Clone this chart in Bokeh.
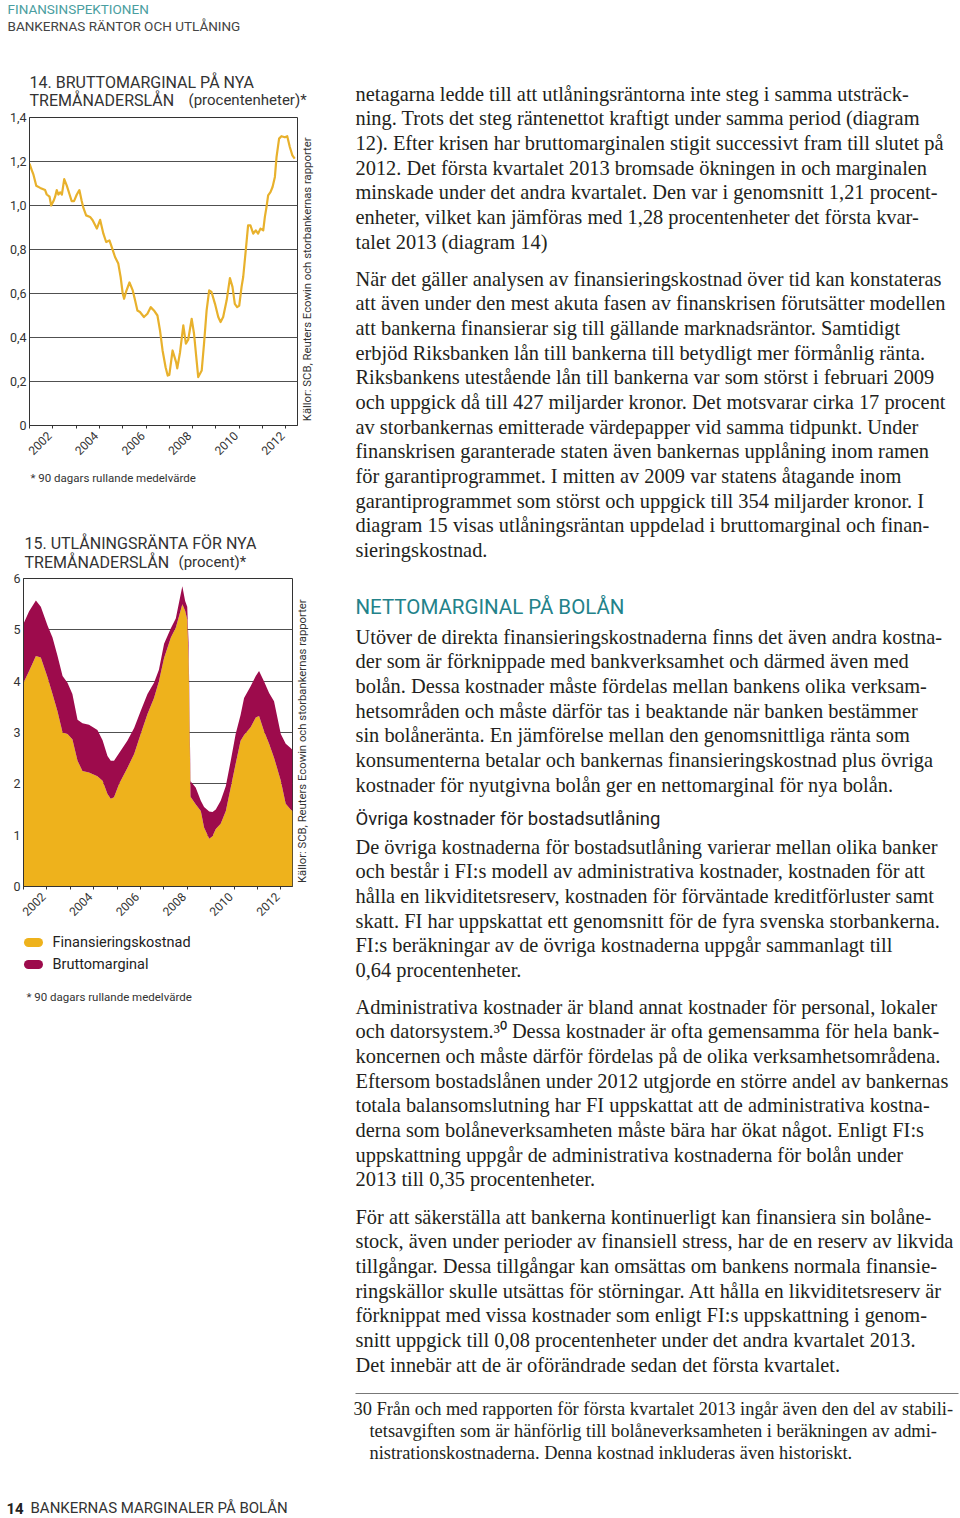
import math
from bokeh.plotting import figure
from bokeh.layouts import row, column
from bokeh.models import Range1d, FixedTicker, CustomJSTickFormatter, ColumnDataSource
from bokeh.embed import file_html
from bokeh.resources import INLINE
from bokeh.core.properties import value

# ---------------- DATA ----------------
# Diagram 14: Bruttomarginal på nya tremånaderslån (procentenheter), 90-dagars rullande medelvärde
years_14 = [2002.00, 2002.10, 2002.17, 2002.29, 2002.46, 2002.67, 2002.74, 2002.86, 2002.93, 2003.03,
            2003.10, 2003.17, 2003.24, 2003.32, 2003.39, 2003.49, 2003.60, 2003.72, 2003.81, 2003.91,
            2004.03, 2004.14, 2004.24, 2004.31, 2004.43, 2004.60, 2004.71, 2004.89, 2005.03, 2005.17,
            2005.29, 2005.43, 2005.53, 2005.67, 2005.81, 2005.91, 2006.00, 2006.06, 2006.14, 2006.29,
            2006.43, 2006.53, 2006.63, 2006.74, 2006.91, 2007.06, 2007.20, 2007.34, 2007.49, 2007.60,
            2007.71, 2007.84, 2007.93, 2008.00, 2008.14, 2008.29, 2008.34, 2008.46, 2008.60, 2008.71,
            2008.81, 2008.96, 2009.06, 2009.17, 2009.24, 2009.39, 2009.49, 2009.60, 2009.71, 2009.81,
            2009.96, 2010.10, 2010.20, 2010.31, 2010.46, 2010.60, 2010.71, 2010.81, 2010.91, 2011.00,
            2011.10, 2011.17, 2011.28, 2011.38, 2011.48, 2011.60, 2011.71, 2011.81, 2011.91, 2012.03,
            2012.10, 2012.17, 2012.24, 2012.34, 2012.43, 2012.53, 2012.60, 2012.71, 2012.81, 2012.96,
            2013.06, 2013.17, 2013.28, 2013.38]
margin_14 = [1.19, 1.16, 1.14, 1.09, 1.08, 1.07, 1.05, 1.04, 1.00, 1.02,
             1.04, 1.07, 1.05, 1.06, 1.05, 1.12, 1.09, 1.05, 1.02, 1.02,
             1.05, 1.07, 1.02, 0.99, 0.955, 0.948, 0.933, 0.895, 0.935, 0.872,
             0.834, 0.841, 0.811, 0.766, 0.736, 0.675, 0.60, 0.576, 0.607, 0.65,
             0.614, 0.569, 0.523, 0.516, 0.493, 0.508, 0.538, 0.523, 0.50, 0.432,
             0.341, 0.265, 0.227, 0.23, 0.341, 0.288, 0.26, 0.333, 0.455, 0.372,
             0.39, 0.485, 0.417, 0.296, 0.22, 0.25, 0.373, 0.523, 0.614, 0.607,
             0.553, 0.493, 0.47, 0.493, 0.569, 0.67, 0.63, 0.553, 0.538, 0.545,
             0.63, 0.675, 0.796, 0.91, 0.91, 0.872, 0.887, 0.872, 0.895, 0.887,
             0.948, 0.993, 1.046, 1.061, 1.084, 1.13, 1.22, 1.304, 1.315, 1.31,
             1.315, 1.266, 1.228, 1.213]

# Diagram 15: Utlåningsränta för nya tremånaderslån (procent) = finansieringskostnad + bruttomarginal
years_15 = [2002.00, 2002.24, 2002.53, 2002.74, 2003.03, 2003.24, 2003.45, 2003.67, 2003.88, 2004.09,
            2004.31, 2004.52, 2004.80, 2005.16, 2005.38, 2005.59, 2005.73, 2005.87, 2006.09, 2006.44,
            2006.73, 2007.01, 2007.30, 2007.58, 2007.79, 2008.01, 2008.30, 2008.51, 2008.79, 2008.91,
            2009.00, 2009.06, 2009.14, 2009.36, 2009.58, 2009.72, 2009.94, 2010.08, 2010.22, 2010.43,
            2010.65, 2010.86, 2011.07, 2011.28, 2011.43, 2011.71, 2011.93, 2012.07, 2012.28, 2012.50,
            2012.71, 2013.00, 2013.21, 2013.42, 2013.50]
fin_15 = [3.97, 4.20, 4.49, 4.46, 4.07, 3.75, 3.42, 3.00, 2.97, 2.87,
          2.45, 2.25, 2.22, 2.15, 2.06, 1.80, 1.71, 1.74, 2.00, 2.31,
          2.58, 2.97, 3.36, 3.67, 4.00, 4.45, 4.85, 5.04, 5.50, 5.37,
          5.20, 4.40, 1.75, 1.60, 1.47, 1.15, 0.93, 0.98, 1.12, 1.22,
          1.47, 1.93, 2.39, 2.84, 2.95, 3.10, 3.29, 3.32, 3.03, 2.78,
          2.51, 2.06, 1.61, 1.50, 1.47]
brutto_15 = [1.15, 1.16, 1.08, 0.99, 1.01, 1.10, 1.08, 1.10, 1.00, 0.88,
             0.80, 0.93, 0.93, 0.90, 0.79, 0.74, 0.74, 0.71, 0.60, 0.53,
             0.51, 0.45, 0.39, 0.30, 0.22, 0.28, 0.18, 0.18, 0.35, 0.19,
             0.25, 0.30, 0.30, 0.33, 0.20, 0.40, 0.53, 0.47, 0.38, 0.45,
             0.49, 0.52, 0.58, 0.50, 0.72, 0.80, 0.81, 0.88, 0.97, 0.99,
             1.10, 0.91, 1.17, 1.20, 1.19]

year_ticks = list(range(2002, 2014))
label_years = [2002, 2004, 2006, 2008, 2010, 2012]
yticks_14 = [0, 0.2, 0.4, 0.6, 0.8, 1.0, 1.2, 1.4]
yticks_15 = [0, 1, 2, 3, 4, 5, 6]

# ---------------- STYLE ----------------
YELLOW = "#EEB21C"
MAGENTA = "#9D0B4C"
LINE14 = "#E8B12C"
DARK = "#333333"
GRID = "#505050"
TEAL = "#23828A"
TEAL_HDR = "#4A9EA0"
BODY = "#231F20"
SANS = "Roboto"
SERIF = "Liberation Serif"
SOURCE = "Källor: SCB, Reuters Ecowin och storbankernas rapporter"
NOTE = "* 90 dagars rullande medelvärde"


def text_fig(w, h):
    p = figure(width=w, height=h, x_range=Range1d(0, w), y_range=Range1d(h, 0),
               x_axis_type=None, y_axis_type=None, toolbar_location=None,
               output_backend="svg", min_border=0, title=None)
    p.outline_line_color = None
    p.background_fill_color = "white"
    p.border_fill_color = "white"
    return p


def put(p, xs, ys, texts, size, color, font=SANS, style="normal", align="left", angle=0.0):
    src = ColumnDataSource(dict(x=xs, y=ys, t=texts))
    p.text(x="x", y="y", text="t", source=src, text_font=value(font),
           text_font_size=f"{size}px", text_color=color, text_font_style=style,
           text_align=align, text_baseline="middle", angle=angle)


def chart_fig(w, h, ymax, yticks, ycode, mbl, mbr, mbt, mbb):
    p = figure(width=w, height=h, x_range=Range1d(2002, 2013.5), y_range=Range1d(0, ymax),
               toolbar_location=None, output_backend="svg", title=None,
               min_border_left=mbl, min_border_right=mbr, min_border_top=mbt, min_border_bottom=mbb)
    p.outline_line_color = DARK
    p.outline_line_width = 1
    p.background_fill_color = "white"
    p.border_fill_color = "white"
    p.xgrid.visible = False
    p.ygrid.ticker = FixedTicker(ticks=yticks)
    p.ygrid.grid_line_color = GRID
    p.ygrid.grid_line_width = 1
    p.yaxis.ticker = FixedTicker(ticks=yticks)
    p.yaxis.formatter = CustomJSTickFormatter(code=ycode)
    p.yaxis.major_tick_line_color = None
    p.yaxis.minor_tick_line_color = None
    p.yaxis.major_tick_out = 0
    p.yaxis.major_tick_in = 0
    p.yaxis.minor_tick_out = 0
    p.yaxis.major_label_standoff = 3
    p.yaxis.major_label_text_font = SANS
    p.yaxis.major_label_text_font_size = "12.5px"
    p.yaxis.major_label_text_color = DARK
    p.yaxis.axis_line_color = DARK
    p.xaxis.ticker = FixedTicker(ticks=[y + 0.85 for y in label_years], minor_ticks=year_ticks)
    p.xaxis.formatter = CustomJSTickFormatter(code="return String(Math.floor(tick));")
    p.xaxis.major_tick_line_color = None
    p.xaxis.major_tick_out = 0
    p.xaxis.major_tick_in = 0
    p.xaxis.minor_tick_out = 3
    p.xaxis.minor_tick_in = 0
    p.xaxis.minor_tick_line_color = DARK
    p.xaxis.major_label_orientation = math.pi / 4
    p.xaxis.major_label_standoff = 5
    p.xaxis.major_label_text_font = SANS
    p.xaxis.major_label_text_font_size = "12px"
    p.xaxis.major_label_text_color = DARK
    p.xaxis.axis_line_color = DARK
    return p


# ---------------- LEFT COLUMN ----------------
# L1: header + title 14  (page y 0..109)
L1 = text_fig(340, 109)
put(L1, [7], [8.5], ["FINANSINSPEKTIONEN"], 13.5, TEAL_HDR)
put(L1, [7], [25.5], ["BANKERNAS RÄNTOR OCH UTLÅNING"], 13.5, "#444444")
put(L1, [29], [81.5], ["14. BRUTTOMARGINAL PÅ NYA"], 16, DARK)
put(L1, [29], [99.5], ["TREMÅNADERSLÅN"], 16, DARK)
put(L1, [188], [99.5], ["(procentenheter)*"], 15, DARK)

# Chart 14 (page y 109..465): frame 117..425
C14 = chart_fig(301, 356, 1.4, yticks_14,
                "return tick == 0 ? '0' : tick.toFixed(1).replace('.', ',');",
                29, 4, 8, 40)
src14 = ColumnDataSource(dict(year=years_14, margin=margin_14))
C14.line(x="year", y="margin", source=src14, line_color=LINE14, line_width=2.2, line_join="round")

S14 = text_fig(39, 356)
put(S14, [6], [351], [SOURCE], 11.3, DARK, angle=math.pi / 2)

# L2: footnote 14 + title 15 (page y 465..571)
L2 = text_fig(340, 106)
put(L2, [30], [12], [NOTE], 11.5, DARK)
put(L2, [24], [78], ["15. UTLÅNINGSRÄNTA FÖR NYA"], 16, DARK)
put(L2, [24], [96.5], ["TREMÅNADERSLÅN"], 16, DARK)
put(L2, [178], [96.5], ["(procent)*"], 15, DARK)

# Chart 15 (page y 571..925): frame 578..886
C15 = chart_fig(295, 354, 6, yticks_15, "return String(Math.round(tick));", 23, 3, 7, 39)
src15 = ColumnDataSource(dict(year=years_15, fin=fin_15, brutto=brutto_15))
C15.varea_stack(stackers=["fin", "brutto"], x="year", color=[YELLOW, MAGENTA], source=src15)

S15 = text_fig(45, 354)
put(S15, [7], [350], [SOURCE], 11.3, DARK, angle=math.pi / 2)

# L3: legend, footnote, footer (page y 925..1518)
L3 = text_fig(340, 593)
L3.segment(x0=[28, 28], y0=[17, 39], x1=[38, 38], y1=[17, 39], line_color=[YELLOW, MAGENTA],
           line_width=9, line_cap="round")
put(L3, [52, 52], [17, 39], ["Finansieringskostnad", "Bruttomarginal"], 14.5, "#222222")
put(L3, [26], [71], [NOTE], 11.5, DARK)
put(L3, [6], [582.5], ["14"], 15, "#222222", style="bold")
put(L3, [30], [582.5], ["BANKERNAS MARGINALER PÅ BOLÅN"], 15, "#333333")

left = column(L1, row(C14, S14), L2, row(C15, S15), L3)

# ---------------- RIGHT COLUMN (body text) ----------------
RX0 = 340
R = text_fig(620, 1518)
STEP = 24.67

paragraphs = [
    (93, [
        "netagarna ledde till att utlåningsräntorna inte steg i samma utsträck-",
        "ning. Trots det steg räntenettot kraftigt under samma period (diagram",
        "12). Efter krisen har bruttomarginalen stigit successivt fram till slutet på",
        "2012. Det första kvartalet 2013 bromsade ökningen in och marginalen",
        "minskade under det andra kvartalet. Den var i genomsnitt 1,21 procent-",
        "enheter, vilket kan jämföras med 1,28 procentenheter det första kvar-",
        "talet 2013 (diagram 14)",
    ]),
    (278, [
        "När det gäller analysen av finansieringskostnad över tid kan konstateras",
        "att även under den mest akuta fasen av finanskrisen förutsätter modellen",
        "att bankerna finansierar sig till gällande marknadsräntor. Samtidigt",
        "erbjöd Riksbanken lån till bankerna till betydligt mer förmånlig ränta.",
        "Riksbankens utestående lån till bankerna var som störst i februari 2009",
        "och uppgick då till 427 miljarder kronor. Det motsvarar cirka 17 procent",
        "av storbankernas emitterade värdepapper vid samma tidpunkt. Under",
        "finanskrisen garanterade staten även bankernas upplåning inom ramen",
        "för garantiprogrammet. I mitten av 2009 var statens åtagande inom",
        "garantiprogrammet som störst och uppgick till 354 miljarder kronor. I",
        "diagram 15 visas utlåningsräntan uppdelad i bruttomarginal och finan-",
        "sieringskostnad.",
    ]),
    (636, [
        "Utöver de direkta finansieringskostnaderna finns det även andra kostna-",
        "der som är förknippade med bankverksamhet och därmed även med",
        "bolån. Dessa kostnader måste fördelas mellan bankens olika verksam-",
        "hetsområden och måste därför tas i beaktande när banken bestämmer",
        "sin bolåneränta. En jämförelse mellan den genomsnittliga ränta som",
        "konsumenterna betalar och bankernas finansieringskostnad plus övriga",
        "kostnader för nyutgivna bolån ger en nettomarginal för nya bolån.",
    ]),
    (846, [
        "De övriga kostnaderna för bostadsutlåning varierar mellan olika banker",
        "och består i FI:s modell av administrativa kostnader, kostnaden för att",
        "hålla en likviditetsreserv, kostnaden för förväntade kreditförluster samt",
        "skatt. FI har uppskattat ett genomsnitt för de fyra svenska storbankerna.",
        "FI:s beräkningar av de övriga kostnaderna uppgår sammanlagt till",
        "0,64 procentenheter.",
    ]),
    (1006, [
        "Administrativa kostnader är bland annat kostnader för personal, lokaler",
        "och datorsystem.³⁰ Dessa kostnader är ofta gemensamma för hela bank-",
        "koncernen och måste därför fördelas på de olika verksamhetsområdena.",
        "Eftersom bostadslånen under 2012 utgjorde en större andel av bankernas",
        "totala balansomslutning har FI uppskattat att de administrativa kostna-",
        "derna som bolåneverksamheten måste bära har ökat något. Enligt FI:s",
        "uppskattning uppgår de administrativa kostnaderna för bolån under",
        "2013 till 0,35 procentenheter.",
    ]),
    (1216, [
        "För att säkerställa att bankerna kontinuerligt kan finansiera sin bolåne-",
        "stock, även under perioder av finansiell stress, har de en reserv av likvida",
        "tillgångar. Dessa tillgångar kan omsättas om bankens normala finansie-",
        "ringskällor skulle utsättas för störningar. Att hålla en likviditetsreserv är",
        "förknippat med vissa kostnader som enligt FI:s uppskattning i genom-",
        "snitt uppgick till 0,08 procentenheter under det andra kvartalet 2013.",
        "Det innebär att de är oförändrade sedan det första kvartalet.",
    ]),
]

bx, by, bt = [], [], []
for y0, lines in paragraphs:
    for i, s in enumerate(lines):
        bx.append(355 - RX0)
        by.append(y0 + i * STEP)
        bt.append(s)
put(R, bx, by, bt, 20.4, BODY, font=SERIF)

put(R, [355 - RX0], [606], ["NETTOMARGINAL PÅ BOLÅN"], 20.5, TEAL)
put(R, [355 - RX0], [818], ["Övriga kostnader för bostadsutlåning"], 18.5, "#1E1E1E")

# footnote
R.segment(x0=[355 - RX0], y0=[1393], x1=[958 - RX0], y1=[1393], line_color="#777777", line_width=1)
put(R, [353 - RX0], [1408], ["30"], 18.4, BODY, font=SERIF)
put(R, [376 - RX0, 369 - RX0, 369 - RX0], [1408, 1430, 1452], [
    "Från och med rapporten för första kvartalet 2013 ingår även den del av stabili-",
    "tetsavgiften som är hänförlig till bolåneverksamheten i beräkningen av admi-",
    "nistrationskostnaderna. Denna kostnad inkluderas även historiskt.",
], 18.4, BODY, font=SERIF)

layout = row(left, R)

open("out.html", "w").write(file_html(layout, INLINE, title="Bruttomarginal och utlåningsränta"))
